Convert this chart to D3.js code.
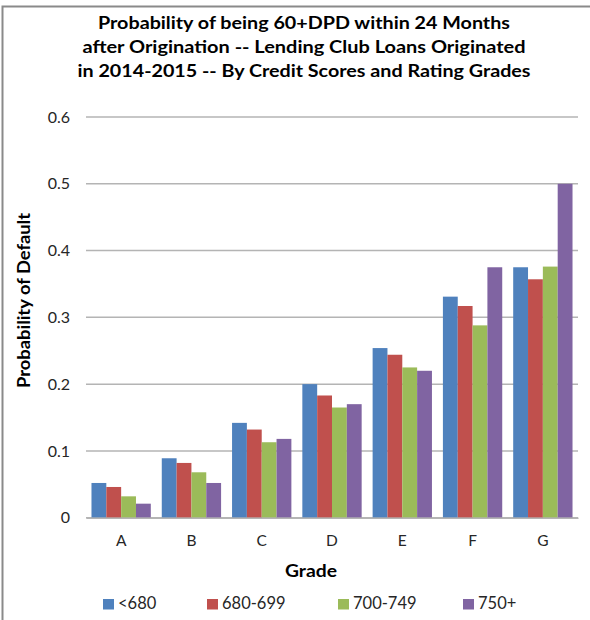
<!DOCTYPE html>
<html>
<head>
<meta charset="utf-8">
<script src="https://cdn.jsdelivr.net/npm/d3@7"></script>
<style>
  html, body { margin: 0; padding: 0; background: #fff; }
  svg { display: block; font-family: Lato, "Open Sans", sans-serif; }
</style>
</head>
<body>
<svg id="chart" width="590" height="620"></svg>
<script>
// Grades on the x axis, credit-score buckets as series
const grades = ["A", "B", "C", "D", "E", "F", "G"];
const seriesNames = ["<680", "680-699", "700-749", "750+"];
const seriesColors = ["#4F81BD", "#C0504D", "#9BBB59", "#8064A2"];

// Probability of default per grade, one array per credit-score bucket
const under680 = [0.052, 0.089, 0.142, 0.200, 0.254, 0.331, 0.375];
const s680to699 = [0.046, 0.082, 0.132, 0.183, 0.244, 0.317, 0.357];
const s700to749 = [0.032, 0.068, 0.113, 0.165, 0.225, 0.288, 0.376];
const s750plus = [0.021, 0.052, 0.118, 0.170, 0.220, 0.375, 0.500];

const yTicks = [0, 0.1, 0.2, 0.3, 0.4, 0.5, 0.6];
const titleLines = [
  "Probability of being 60+DPD within 24 Months",
  "after Origination -- Lending Club Loans Originated",
  "in 2014-2015 -- By Credit Scores and Rating Grades"
];

const seriesValues = [under680, s680to699, s700to749, s750plus];

const svg = d3.select("#chart");
const plot = { left: 86, right: 578, top: 117, bottom: 517.7 };

// outer frame (left and top edges)
svg.append("path")
  .attr("d", "M2.5,620 L2.5,6.5 L590,6.5")
  .attr("fill", "none")
  .attr("stroke", "#8a8a8a")
  .attr("stroke-width", 2);

const x = d3.scaleBand()
  .domain(grades)
  .range([plot.left, plot.right])
  .paddingInner(0.156)
  .paddingOuter(0.078);

const xs = d3.scaleBand()
  .domain(seriesNames)
  .range([0, x.bandwidth()]);

const y = d3.scaleLinear()
  .domain([0, 0.6])
  .range([plot.bottom, plot.top]);

// gridlines
svg.append("g")
  .selectAll("line")
  .data(yTicks)
  .join("line")
  .attr("x1", plot.left)
  .attr("x2", plot.right)
  .attr("y1", d => y(d))
  .attr("y2", d => y(d))
  .attr("stroke", "#b4b4b4")
  .attr("stroke-width", 1.5);

// y axis tick labels
const yAxis = d3.axisLeft(y).tickValues(yTicks).tickSize(0).tickPadding(16)
  .tickFormat(d => d === 0 ? "0" : d3.format(".1f")(d));
const gy = svg.append("g").attr("transform", `translate(${plot.left},0)`).call(yAxis);
gy.select(".domain").remove();
gy.selectAll("text")
  .attr("font-size", 16)
  .attr("font-family", "Lato, sans-serif")
  .attr("fill", "#262626");

// bars
const groups = svg.append("g")
  .selectAll("g")
  .data(grades)
  .join("g")
  .attr("transform", d => `translate(${x(d)},0)`);

groups.selectAll("rect")
  .data((g, gi) => seriesNames.map((s, si) => ({ s, si, v: seriesValues[si][gi] })))
  .join("rect")
  .attr("x", d => xs(d.s))
  .attr("width", xs.bandwidth())
  .attr("y", d => y(d.v))
  .attr("height", d => y(0) - y(d.v))
  .attr("fill", d => seriesColors[d.si]);

// x axis baseline and category labels
const xAxis = d3.axisBottom(x).tickSize(0).tickPadding(17);
const gx = svg.append("g").attr("transform", `translate(0,${plot.bottom})`).call(xAxis);
gx.select(".domain").attr("stroke", "#b4b4b4").attr("stroke-width", 1.5);
gx.selectAll("text")
  .attr("font-size", 15.5)
  .attr("font-family", "Lato, sans-serif")
  .attr("fill", "#262626");

// title, one text element per line, widened to the chart's proportions
const titleWidths = [412, 443, 453];
svg.append("g")
  .selectAll("text")
  .data(titleLines)
  .join("text")
  .attr("x", 304)
  .attr("y", (d, i) => 29 + i * 24)
  .attr("text-anchor", "middle")
  .attr("font-size", 16.5)
  .attr("font-weight", "bold")
  .attr("fill", "#000")
  .attr("textLength", (d, i) => titleWidths[i])
  .attr("lengthAdjust", "spacingAndGlyphs")
  .text(d => d);

// axis titles
svg.append("text")
  .attr("x", 311)
  .attr("y", 577)
  .attr("text-anchor", "middle")
  .attr("font-size", 16.5)
  .attr("font-weight", "bold")
  .attr("fill", "#000")
  .attr("textLength", 52)
  .attr("lengthAdjust", "spacingAndGlyphs")
  .text("Grade");

svg.append("text")
  .attr("transform", "translate(30,300.5) rotate(-90)")
  .attr("text-anchor", "middle")
  .attr("font-size", 16.5)
  .attr("font-weight", "bold")
  .attr("fill", "#000")
  .attr("textLength", 175)
  .attr("lengthAdjust", "spacingAndGlyphs")
  .text("Probability of Default");

// legend
const legendX = [103, 207, 338, 463];
const legend = svg.append("g")
  .selectAll("g")
  .data(seriesNames)
  .join("g")
  .attr("transform", (d, i) => `translate(${legendX[i]},609)`);
legend.append("rect")
  .attr("x", 0).attr("y", -10)
  .attr("width", 11).attr("height", 10.5)
  .attr("fill", (d, i) => seriesColors[i]);
legend.append("text")
  .attr("x", 15)
  .attr("y", 0)
  .attr("font-size", 16.5)
  .attr("fill", "#262626")
  .text(d => d);
</script>
</body>
</html>
